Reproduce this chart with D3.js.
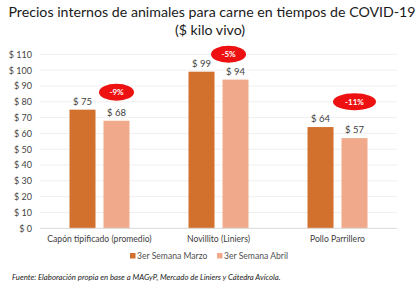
<!DOCTYPE html>
<html><head><meta charset="utf-8">
<script src="https://cdn.jsdelivr.net/npm/d3@7"></script>
<style>
html,body{margin:0;padding:0;background:#fff;}
svg{display:block;font-family:Lato,"Open Sans",sans-serif;}
</style></head>
<body>
<svg id="chart" width="420" height="286"></svg>
<script>
const categories = ["Capón tipificado (promedio)", "Novillito (Liniers)", "Pollo Parrillero"];
const seriesNames = ["3er Semana Marzo", "3er Semana Abril"];
const marzo = [75, 99, 64];
const abril = [68, 94, 57];
const changes = ["-9%", "-5%", "-11%"];
const changeLevel = [86, 110, 80];
const yTicks = [0, 10, 20, 30, 40, 50, 60, 70, 80, 90, 100, 110];
const colors = ["#D2702E", "#F0A98A"];

const svg = d3.select("#chart");
const m = {left: 40, right: 23, top: 54.3, bottom: 57.7};
const W = 420, H = 286;
const x0 = d3.scaleBand().domain(categories).range([m.left, W - m.right]).paddingInner(0).paddingOuter(0);
const x1 = d3.scaleBand().domain(seriesNames).range([x0.bandwidth()/2 - 30, x0.bandwidth()/2 + 30]).paddingInner(8/34).paddingOuter(0);
const y = d3.scaleLinear().domain([0, 110]).range([H - m.bottom, m.top]);

// title
svg.append("text").attr("x", 212).attr("y", 17).attr("text-anchor", "middle")
  .attr("font-size", 14.2).attr("fill", "#1a1a1a").text("Precios internos de animales para carne en tiempos de COVID-19");
svg.append("text").attr("x", 210).attr("y", 35).attr("text-anchor", "middle")
  .attr("font-size", 14.2).attr("fill", "#1a1a1a").text("($ kilo vivo)");

// gridlines
svg.append("g").selectAll("line").data(yTicks.filter(d => d > 0)).join("line")
  .attr("x1", m.left).attr("x2", W - m.right)
  .attr("y1", d => y(d)).attr("y2", d => y(d))
  .attr("stroke", "#efefef").attr("stroke-width", 1);

// y axis
const yAxis = svg.append("g").attr("transform", `translate(${m.left - 6},0)`)
  .call(d3.axisLeft(y).tickValues(yTicks).tickSize(0).tickPadding(2).tickFormat(d => "$ " + d));
yAxis.select(".domain").remove();
yAxis.selectAll("text").attr("font-size", 9).attr("fill", "#444").attr("font-family", "Lato,sans-serif");

// bars
const data = categories.map((c, i) => ({cat: c, vals: [marzo[i], abril[i]]}));
const g = svg.append("g").selectAll("g").data(data).join("g")
  .attr("transform", d => `translate(${x0(d.cat)},0)`);
g.selectAll("rect").data(d => d.vals.map((v, j) => ({s: seriesNames[j], v, j}))).join("rect")
  .attr("x", d => x1(d.s)).attr("width", x1.bandwidth())
  .attr("y", d => y(d.v)).attr("height", d => y(0) - y(d.v))
  .attr("fill", d => colors[d.j]);
g.selectAll("text.val").data(d => d.vals.map((v, j) => ({s: seriesNames[j], v, j}))).join("text")
  .attr("class", "val")
  .attr("x", d => x1(d.s) + x1.bandwidth()/2).attr("y", d => y(d.v) - 5)
  .attr("text-anchor", "middle").attr("font-size", 9.5).attr("fill", "#404040")
  .text(d => "$ " + d.v);

// baseline
svg.append("line").attr("x1", m.left).attr("x2", W - m.right).attr("y1", y(0)).attr("y2", y(0))
  .attr("stroke", "#d9d9d9").attr("stroke-width", 1);

// category labels
svg.append("g").selectAll("text").data(categories).join("text")
  .attr("x", d => x0(d) + x0.bandwidth()/2).attr("y", y(0) + 14)
  .attr("text-anchor", "middle").attr("font-size", 8.6).attr("fill", "#404040").text(d => d);

// change annotations
const nudge = [0, -7, 0];
const ann = svg.append("g").selectAll("g").data(categories).join("g")
  .attr("transform", (d, i) => `translate(${x0(d) + x1(seriesNames[1]) + x1.bandwidth()/2 + nudge[i]},${y(changeLevel[i])})`);
ann.append("ellipse").attr("rx", (d, i) => changes[i].length > 3 ? 21.5 : 17.5).attr("ry", 8.5).attr("fill", "#EE1111");
ann.append("text").attr("text-anchor", "middle").attr("dy", "0.35em")
  .attr("font-size", 8).attr("font-weight", "bold").attr("fill", "#fff").text((d, i) => changes[i]);

// legend
const legX = [130, 217];
const leg = svg.append("g").selectAll("g").data(seriesNames).join("g")
  .attr("transform", (d, i) => `translate(${legX[i]},256)`);
leg.append("rect").attr("x", 0).attr("y", -3).attr("width", 5.5).attr("height", 5.5).attr("fill", (d, i) => colors[i]);
leg.append("text").attr("x", 7).attr("y", 0).attr("dy", "0.35em").attr("font-size", 8.6).attr("fill", "#505050").text(d => d);

// source
svg.append("text").attr("x", 12).attr("y", 280).attr("font-size", 7.8).attr("font-style", "italic")
  .attr("fill", "#1a1a1a").text("Fuente: Elaboración propia en base a MAGyP, Mercado de Liniers y Cátedra Avícola.");
</script>
</body></html>
